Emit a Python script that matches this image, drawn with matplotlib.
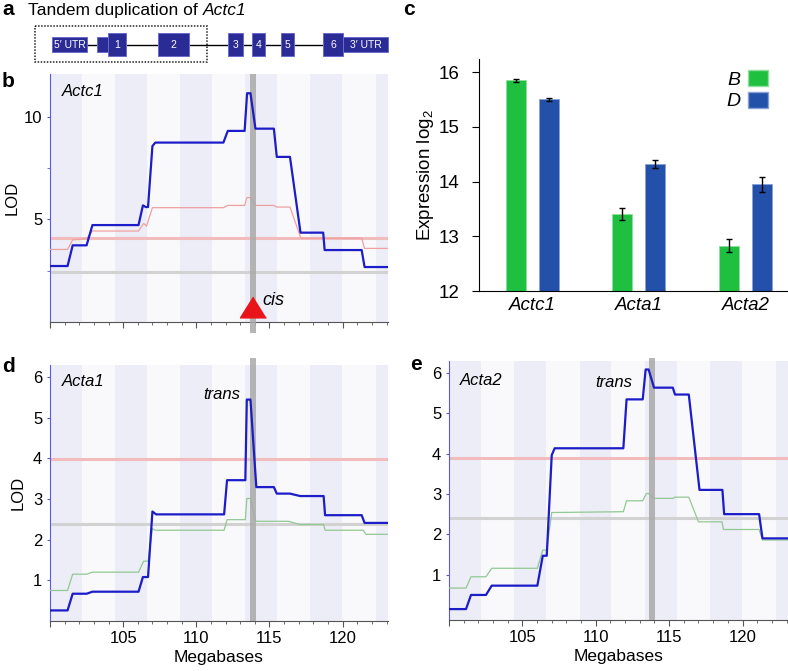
import numpy as np
import matplotlib
matplotlib.use("Agg")
import matplotlib.pyplot as plt
from matplotlib.patches import Rectangle, Patch
from matplotlib.ticker import FixedLocator, MultipleLocator

plt.rcParams.update({
    "font.family": ["Liberation Sans", "DejaVu Sans"],
    "mathtext.fontset": "custom",
    "mathtext.rm": "Liberation Sans",
    "mathtext.it": "Liberation Sans:italic",
})

W, H = 788, 671

# panel a: gene model, positions in diagram units
EXON_LABELS = ["5′ UTR", "", "1", "2", "3", "4", "5", "6", "3′ UTR"]
EXON_START = [52, 97, 108, 158, 228, 252, 281, 323, 343]
EXON_END = [87, 108, 126, 189, 243, 265, 294, 343, 388]
EXON_TALL = [False, False, True, True, True, True, True, True, False]
DUP_START, DUP_END = 35, 207

# panels b, d, e: LOD profiles along the chromosome (Mb)
BAND_STARTS = [100, 104.45, 108.9, 113.36, 117.8, 122.26]
BAND_WIDTH = 2.17
PEAK_MB = 113.86

B_X = [100, 101.2, 101.55, 102.5, 102.9, 106.05, 106.35, 106.55, 106.7, 107.0, 107.2, 111.85, 112.15,
       113.3, 113.47, 113.7, 114.04, 115.3, 115.5, 116.4, 117.12, 118.67, 118.77, 121.3, 121.5, 123.1]
B_LOD = [2.72, 2.72, 3.73, 3.73, 4.72, 4.72, 5.68, 5.6, 5.6, 8.58, 8.75, 8.75, 9.32,
         9.32, 11.16, 11.16, 9.43, 9.43, 8.05, 8.05, 4.35, 4.35, 3.5, 3.5, 2.67, 2.67]
B_X2 = [100, 101.2, 101.55, 102.5, 102.9, 106.05, 106.4, 106.6, 107.0, 111.85, 112.15, 113.3, 113.45,
        113.7, 114.0, 115.3, 115.5, 116.4, 117.15, 121.3, 121.5, 123.1]
B_LOD2 = [3.53, 3.53, 4.0, 4.05, 4.43, 4.43, 4.8, 4.67, 5.57, 5.57, 5.68, 5.68, 6.06,
          6.06, 5.68, 5.68, 5.6, 5.6, 4.08, 4.08, 3.58, 3.58]
B_THR = (4.11, 2.44)

D_X = [100, 101.2, 101.55, 102.5, 102.9, 106.05, 106.35, 106.7, 107.0, 107.25, 111.9, 112.1, 113.35,
       113.45, 113.7, 114.1, 115.3, 115.5, 116.4, 117.1, 118.7, 118.8, 121.3, 121.5, 123.1]
D_LOD = [0.26, 0.26, 0.67, 0.67, 0.72, 0.72, 1.08, 1.08, 2.69, 2.62, 2.62, 3.46, 3.46,
         5.44, 5.44, 3.29, 3.29, 3.13, 3.13, 3.07, 3.07, 2.60, 2.60, 2.41, 2.41]
D_X2 = [100, 101.2, 101.55, 102.5, 102.9, 106.05, 106.4, 106.7, 107.0, 107.2, 111.9, 112.1, 113.35,
        113.45, 113.7, 114.04, 114.1, 116.3, 117.1, 118.7, 118.8, 121.4, 121.6, 123.1]
D_LOD2 = [0.75, 0.75, 1.15, 1.15, 1.2, 1.2, 1.47, 1.47, 2.27, 2.23, 2.23, 2.49, 2.49,
          3.01, 3.01, 2.47, 2.45, 2.45, 2.37, 2.37, 2.23, 2.23, 2.13, 2.13]
D_THR = (3.97, 2.39)

E_X = [100, 101.16, 101.5, 102.52, 102.91, 106.02, 106.39, 106.66, 107.0, 107.2, 111.88, 112.1, 113.2,
       113.4, 113.6, 113.97, 115.25, 115.4, 116.34, 117.07, 118.63, 118.75, 121.13, 121.36, 123.1]
E_LOD = [0.15, 0.15, 0.50, 0.50, 0.73, 0.73, 1.47, 1.47, 3.96, 4.13, 4.13, 5.34, 5.34,
         6.08, 6.08, 5.63, 5.63, 5.46, 5.46, 3.10, 3.10, 2.50, 2.50, 1.90, 1.90]
E_X2 = [100, 101.16, 101.5, 102.52, 102.91, 106.02, 106.39, 106.66, 107.0, 111.88, 112.1, 113.2,
        113.45, 113.6, 113.97, 115.25, 115.4, 116.34, 117.0, 118.6, 118.7, 121.13, 121.36, 123.1]
E_LOD2 = [0.67, 0.67, 0.95, 0.95, 1.16, 1.16, 1.61, 1.61, 2.54, 2.56, 2.83, 2.83,
          3.01, 3.01, 2.89, 2.89, 2.92, 2.92, 2.31, 2.31, 2.12, 2.12, 1.86, 1.86]
E_THR = (3.88, 2.40)

# panel c: expression
GENES = ["Actc1", "Acta1", "Acta2"]
EXPR_B = [15.85, 13.40, 12.83]
EXPR_D = [15.50, 14.32, 13.95]
ERR_B = [0.03, 0.11, 0.12]
ERR_D = [0.03, 0.07, 0.14]

BLUE = "#1c1cc8"
GREEN_BAR = "#1fbf3f"
BLUE_BAR = "#2350a8"


def px_axes(fig, left, top, right, bottom):
    return fig.add_axes([left / W, 1 - bottom / H, (right - left) / W, (bottom - top) / H])


def draw_qtl(ax, x, lod, x2, lod2, thin_color, thr, ylim, bar_span):
    ax.set_facecolor("#f9f9fc")
    for s in BAND_STARTS:
        ax.axvspan(s, s + BAND_WIDTH, color="#ecedf7", lw=0, zorder=0)
    ax.axhline(thr[0], color="#f2bcbc", lw=2.2, zorder=2)
    ax.axhline(thr[1], color="#d2d2d2", lw=2.2, zorder=2)
    ax.plot(x2, lod2, color=thin_color, lw=0.9, zorder=3)
    ax.axvspan(PEAK_MB - 0.2, PEAK_MB + 0.2, ymin=bar_span[0], ymax=bar_span[1],
               color="#a9a9a9", alpha=0.85, lw=0, zorder=4, clip_on=False)
    ax.plot(x, lod, color=BLUE, lw=1.6, zorder=5)
    ax.set_xlim(100, 123.1)
    ax.set_ylim(*ylim)
    for side in ("top", "right"):
        ax.spines[side].set_visible(False)
    ax.spines["left"].set_color("#5a5ae0")
    ax.spines["bottom"].set_color("#555555")
    ax.xaxis.set_major_locator(FixedLocator([100, 105, 110, 115, 120]))
    ax.xaxis.set_minor_locator(MultipleLocator(1))
    ax.tick_params(axis="x", which="major", length=4, color="#555555", labelsize=12, pad=3)
    ax.tick_params(axis="x", which="minor", length=2.2, color="#555555")
    ax.tick_params(axis="y", which="both", length=2.5, color="#5a5ae0", labelsize=12, pad=3)


fig = plt.figure(figsize=(W / 100, H / 100), dpi=100)

# background axes in pixel coordinates for panel a and panel letters
ax0 = fig.add_axes([0, 0, 1, 1])
ax0.set_xlim(0, W)
ax0.set_ylim(H, 0)
ax0.axis("off")

yc = 44.5
ax0.plot([EXON_END[0], EXON_START[-1]], [yc, yc], color="k", lw=1, zorder=1)
for s, e, tall, lab in zip(EXON_START, EXON_END, EXON_TALL, EXON_LABELS):
    h = 23 if tall else 15
    ax0.add_patch(Rectangle((s, yc - h / 2), e - s, h, fc="#2b2b96", ec="#6a6ad0", lw=0.7, zorder=2))
    if lab:
        ax0.text((s + e) / 2, yc, lab, color="white", fontsize=7.5, ha="center", va="center", zorder=3)
ax0.add_patch(Rectangle((DUP_START, 26), DUP_END - DUP_START, 36, fill=False, ec="#222222",
                        lw=1.1, ls=(0, (1, 1)), zorder=3))

# title: upright part followed by italic gene name
t1 = ax0.text(28, 15, "Tandem duplication of ", fontsize=12.5, ha="left", va="baseline")
renderer = fig.canvas.get_renderer()
bb = t1.get_window_extent(renderer=renderer)
x_end = ax0.transData.inverted().transform((bb.x1, bb.y0))[0]
ax0.text(x_end, 15, "Actc1", fontsize=12.5, style="italic", ha="left", va="baseline")

for lab, (lx, ly) in zip("abcde", [(2, 15), (2, 87), (403, 15), (2, 372), (410, 370)]):
    ax0.text(lx, ly, lab, fontsize=15, fontweight="bold", ha="left", va="baseline")

# panel b
axb = px_axes(fig, 50, 74, 388, 321.7)
draw_qtl(axb, B_X, B_LOD, B_X2, B_LOD2, "#f0a0a0", B_THR, (0, 12.1), (-0.046, 1.0))
axb.yaxis.set_major_locator(FixedLocator([5, 10]))
axb.yaxis.set_minor_locator(FixedLocator([2.5, 7.5]))
axb.set_xticklabels([])
axb.set_ylabel("LOD", fontsize=12, labelpad=3)
axb.text(0.036, 0.93, "Actc1", transform=axb.transAxes, fontsize=12, style="italic", va="center")
tri = [(0, 0.8), (-1, -0.8), (1, -0.8)]
axb.plot([PEAK_MB], [0.72], marker=tri, markersize=18.7, color="#e8141a", lw=0,
         clip_on=False, zorder=6)
axb.text(114.52, 1.04, "cis", fontsize=13, style="italic", va="center", ha="left", zorder=7)

# panel d
axd = px_axes(fig, 50, 365, 388, 621)
draw_qtl(axd, D_X, D_LOD, D_X2, D_LOD2, "#92c892", D_THR, (0, 6.29), (0, 1.027))
axd.yaxis.set_major_locator(FixedLocator([1, 2, 3, 4, 5, 6]))
axd.set_xticklabels(["", "105", "110", "115", "120"])
axd.set_xlabel("Megabases", fontsize=12.5, labelpad=3)
axd.set_ylabel("LOD", fontsize=12, labelpad=5)
axd.text(0.036, 0.935, "Acta1", transform=axd.transAxes, fontsize=12, style="italic", va="center")
axd.text(113.0, 5.57, "trans", fontsize=12, style="italic", va="center", ha="right", zorder=7)

# panel e
axe = px_axes(fig, 449, 361, 788, 620)
draw_qtl(axe, E_X, E_LOD, E_X2, E_LOD2, "#92c892", E_THR, (-0.12, 6.29), (0, 1.01))
axe.yaxis.set_major_locator(FixedLocator([1, 2, 3, 4, 5, 6]))
axe.set_xticklabels(["", "105", "110", "115", "120"])
axe.set_xlabel("Megabases", fontsize=12.5, labelpad=3)
axe.text(0.033, 0.925, "Acta2", transform=axe.transAxes, fontsize=12, style="italic", va="center")
axe.text(112.47, 5.77, "trans", fontsize=12, style="italic", va="center", ha="right", zorder=7)

# panel c
axc = px_axes(fig, 479, 59, 788, 291)
x = np.arange(len(GENES))
off, bw = 0.155, 0.19
axc.bar(x - off, EXPR_B, width=bw, color=GREEN_BAR, ec="#8fe0a0", lw=0.6)
axc.bar(x + off, EXPR_D, width=bw, color=BLUE_BAR, ec="#8aa0d8", lw=0.6)
axc.errorbar(x - off, EXPR_B, yerr=ERR_B, fmt="none", ecolor="k", elinewidth=1, capsize=2.5)
axc.errorbar(x + off, EXPR_D, yerr=ERR_D, fmt="none", ecolor="k", elinewidth=1, capsize=2.5)
axc.set_xlim(-0.5, 2.4)
axc.set_ylim(12, 16.24)
axc.set_yticks([12, 13, 14, 15, 16])
axc.set_xticks(x)
axc.set_xticklabels(GENES, fontsize=13.5, style="italic")
axc.tick_params(axis="x", length=0, pad=4)
axc.tick_params(axis="y", length=5, labelsize=13.5, pad=9)
for side in ("top", "right"):
    axc.spines[side].set_visible(False)
axc.set_ylabel(r"Expression log$_2$", fontsize=13.5, labelpad=2)
handles = [Patch(fc=GREEN_BAR, ec="#8fe0a0"), Patch(fc=BLUE_BAR, ec="#8aa0d8")]
axc.legend(handles, ["B", "D"], markerfirst=False, frameon=False, loc="upper right",
           bbox_to_anchor=(768 / W, 1 - 70 / H), bbox_transform=fig.transFigure,
           prop=dict(style="italic", size=14), handlelength=1.05, handleheight=0.9,
           handletextpad=0.35, borderpad=0, borderaxespad=0, labelspacing=0.15)

fig.savefig("out.png", dpi=100)
